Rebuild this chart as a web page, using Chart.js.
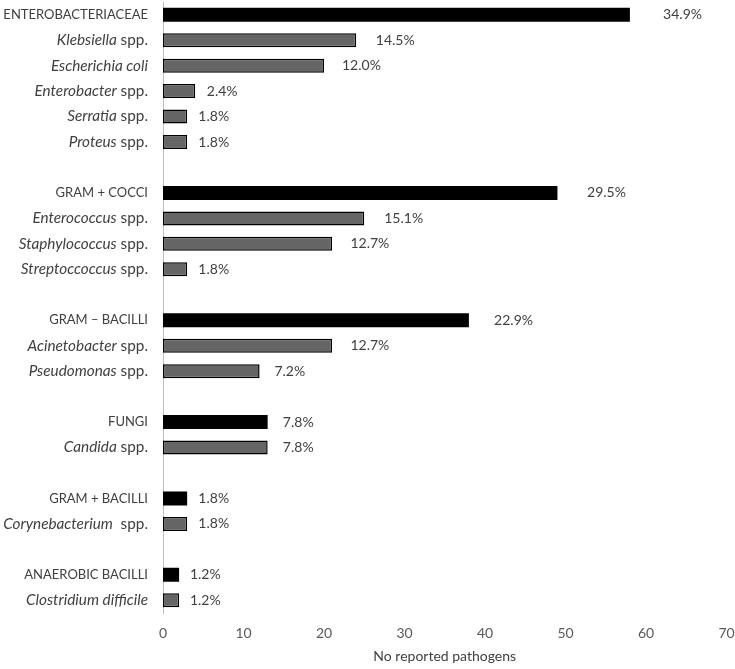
<!DOCTYPE html>
<html>
<head>
<meta charset="utf-8">
<script src="https://cdn.jsdelivr.net/npm/chart.js@4"></script>
<style>
  body { margin: 0; background: #fff; }
  #wrap { width: 735px; height: 669px; }
</style>
</head>
<body>
<div id="wrap"><canvas id="grafica"></canvas></div>
<script>
// *...* marks the italic part of a label, '' rows are gaps between groups
const categories = [
  'ENTEROBACTERIACEAE', '*Klebsiella* spp.', '*Escherichia coli*', '*Enterobacter* spp.', '*Serratia* spp.', '*Proteus* spp.',
  '',
  'GRAM + COCCI', '*Enterococcus* spp.', '*Staphylococcus* spp.', '*Streptoccoccus* spp.',
  '',
  'GRAM \u2013 BACILLI', '*Acinetobacter* spp.', '*Pseudomonas* spp.',
  '',
  'FUNGI', '*Candida* spp.',
  '',
  'GRAM + BACILLI', '*Corynebacterium*  spp.',
  '',
  'ANAEROBIC BACILLI', '*Clostridium difficile*'
];
const counts = [58, 24, 20, 4, 3, 3, null, 49, 25, 21, 3, null, 38, 21, 12, null, 13, 13, null, 3, 3, null, 2, 2];
const percents = ['34.9%', '14.5%', '12.0%', '2.4%', '1.8%', '1.8%', '', '29.5%', '15.1%', '12.7%', '1.8%', '',
  '22.9%', '12.7%', '7.2%', '', '7.8%', '7.8%', '', '1.8%', '1.8%', '', '1.2%', '1.2%'];
const isGroup = [1, 0, 0, 0, 0, 0, 0, 1, 0, 0, 0, 0, 1, 0, 0, 0, 1, 0, 0, 1, 0, 0, 1, 0];
const xTicks = [0, 10, 20, 30, 40, 50, 60, 70];

const FONT = 'Lato, "Open Sans", sans-serif';
const TEXT = '#404040';

// draws y labels (mixed italic) and the percentage labels
const labelPlugin = {
  id: 'labels',
  afterDatasetsDraw(chart) {
    const ctx = chart.ctx;
    const y = chart.scales.y;
    const meta = chart.getDatasetMeta(0);
    ctx.save();
    ctx.textBaseline = 'middle';
    ctx.textAlign = 'left';
    ctx.fillStyle = TEXT;
    categories.forEach((lab, i) => {
      if (!lab) return;
      const py = y.getPixelForValue(i);
      const size = isGroup[i] ? 13 : 15.3;
      const parts = lab.split('*');
      let x = chart.chartArea.left - 15;
      for (let k = parts.length - 1; k >= 0; k--) {
        if (!parts[k]) continue;
        ctx.font = (k % 2 ? 'italic ' : '') + size + 'px ' + FONT;
        x -= ctx.measureText(parts[k]).width;
        ctx.fillText(parts[k], x, py);
      }
      if (counts[i] != null) {
        const bar = meta.data[i];
        ctx.font = '14px ' + FONT;
        ctx.fillText(percents[i], bar.x + 10 + counts[i] * 0.4, py);
      }
    });
    ctx.restore();
  }
};

new Chart(document.getElementById('grafica'), {
  type: 'bar',
  data: {
    labels: categories,
    datasets: [{
      data: counts,
      backgroundColor: isGroup.map(g => g ? '#000000' : '#656565'),
      borderColor: '#000000',
      borderWidth: isGroup.map(g => g ? 0 : 1.5),
      borderSkipped: false,
      barPercentage: 0.55,
      categoryPercentage: 1
    }]
  },
  options: {
    indexAxis: 'y',
    responsive: true,
    maintainAspectRatio: false,
    animation: false,
    layout: { padding: { top: 2, right: 8.5, bottom: 0, left: 0 } },
    plugins: { legend: { display: false }, tooltip: { enabled: false } },
    scales: {
      x: {
        min: 0, max: 70,
        afterBuildTicks: s => { s.ticks = xTicks.map(v => ({ value: v })); },
        afterFit: s => { s.height = 56; s.paddingRight = 0; },
        grid: { display: false },
        border: { display: false },
        ticks: { color: '#595959', font: { family: FONT, size: 14 }, padding: 4, maxRotation: 0 },
        title: { display: true, text: 'No reported pathogens', color: TEXT, font: { family: FONT, size: 14 }, padding: { top: 0, bottom: 4 } }
      },
      y: {
        grid: { display: false },
        border: { display: true, color: '#bfbfbf', width: 1 },
        ticks: { display: false },
        afterFit: s => { s.width = 163; }
      }
    }
  },
  plugins: [labelPlugin]
});
</script>
</body>
</html>
